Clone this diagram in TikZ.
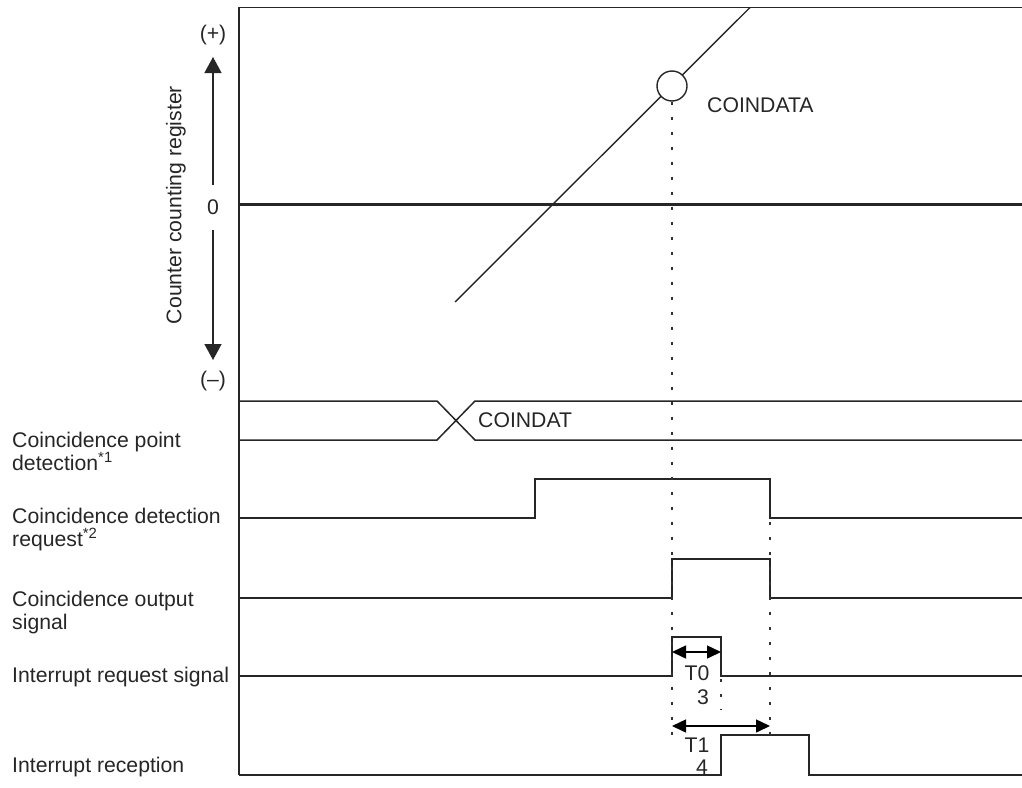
\documentclass[tikz,border=0pt]{standalone}
\usepackage{fontspec}
\setmainfont{Liberation Sans}
\usetikzlibrary{arrows.meta}
\begin{document}
\begin{tikzpicture}[x=1pt,y=-1pt,
  wave/.style={line width=1.5pt, draw=black!85},
  guide/.style={line width=1.4pt, dash pattern=on 3pt off 12pt, draw=black!80},
  lbl/.style={font=\fontsize{21.2}{22.5}\selectfont, inner sep=0pt, text=black!85},
  sig/.style={lbl, anchor=north west, align=left},
  bigarrow/.style={line width=1.5pt, draw=black!85, -{Triangle[length=16pt,width=17pt]}},
  span/.style={line width=1.5pt, {Triangle[length=14pt,width=13pt]}-{Triangle[length=14pt,width=13pt]}},
]
\useasboundingbox (0,0) rectangle (1022,787);

% frame and zero level
\draw[wave] (1022,7.5) -- (239,7.5) -- (239,775);
\draw[line width=3pt, draw=black!85] (239,204) -- (1022,204);

% counter axis
\node[lbl] (plus) at (213,35) {(+)};
\node[lbl] (zero) at (213,207) {0};
\node[lbl] (minus) at (213,381) {(–)};
\coordinate (upS) at (213,185);
\coordinate (upE) at (213,57);
\coordinate (dnS) at (213,230);
\coordinate (dnE) at (213,360);
\draw[bigarrow] (upS) -- (upE);
\draw[bigarrow] (dnS) -- (dnE);
\node[lbl, rotate=90] (reg) at (176,205) {Counter counting register};

% counter value ramp with the match point
\coordinate (cs) at (455,302);
\coordinate (ce) at (750,7.5);
\draw[line width=1.4pt, draw=black!85] (cs) -- (ce);
\node[circle, draw=black!85, fill=white, minimum size=30pt, inner sep=0pt, line width=1.4pt] (hit) at (672,86) {};
\node[lbl, anchor=west] (coindata) at (707,105) {COINDATA};

% compare register bus
\draw[wave] (239,401) -- (437,401) -- (475,440) -- (1022,440);
\draw[wave] (239,440) -- (437,440) -- (475,401) -- (1022,401);
\node[lbl, anchor=west] (coindat) at (478,420) {COINDAT};

% waveforms
\draw[wave] (239,518) -- (535,518) -- (535,479) -- (770,479) -- (770,518) -- (1022,518);
\draw[wave] (239,598) -- (672,598) -- (672,559) -- (770,559) -- (770,598) -- (1022,598);
\draw[wave] (239,676) -- (672,676) -- (672,637) -- (721,637) -- (721,676) -- (1022,676);
\draw[wave] (239,775) -- (721,775) -- (721,735) -- (809,735) -- (809,775) -- (1022,775);

% timing guides
\coordinate (g1) at (672,735);
\coordinate (g2a) at (770,522);
\coordinate (g2b) at (770,745);
\coordinate (g3a) at (721,679);
\coordinate (g3b) at (721,710);
\draw[guide] (hit.south) -- (g1);
\draw[guide] (g2a) -- (g2b);
\draw[guide] (g3a) -- (g3b);

% delays
\coordinate (t0a) at (672,652);
\coordinate (t0b) at (721,652);
\coordinate (t1a) at (672,726);
\coordinate (t1b) at (770,726);
\draw[span] (t0a) -- (t0b);
\draw[span] (t1a) -- (t1b);
\node[lbl] (t0) at (697,673) {T0};
\node[lbl] (t0n) at (703,697) {3};
\node[lbl] (t1) at (697,745) {T1};
\node[lbl] (t1n) at (702,767) {4};

% signal names
\node[sig] (s1) at (12,432) {Coincidence point\\detection\textsuperscript{*1}};
\node[sig] (s2) at (12,508) {Coincidence detection\\request\textsuperscript{*2}};
\node[sig] (s3) at (12,591) {Coincidence output\\signal};
\node[sig] (s4) at (12,667) {Interrupt request signal};
\node[sig] (s5) at (12,757) {Interrupt reception};
\end{tikzpicture}
\end{document}
